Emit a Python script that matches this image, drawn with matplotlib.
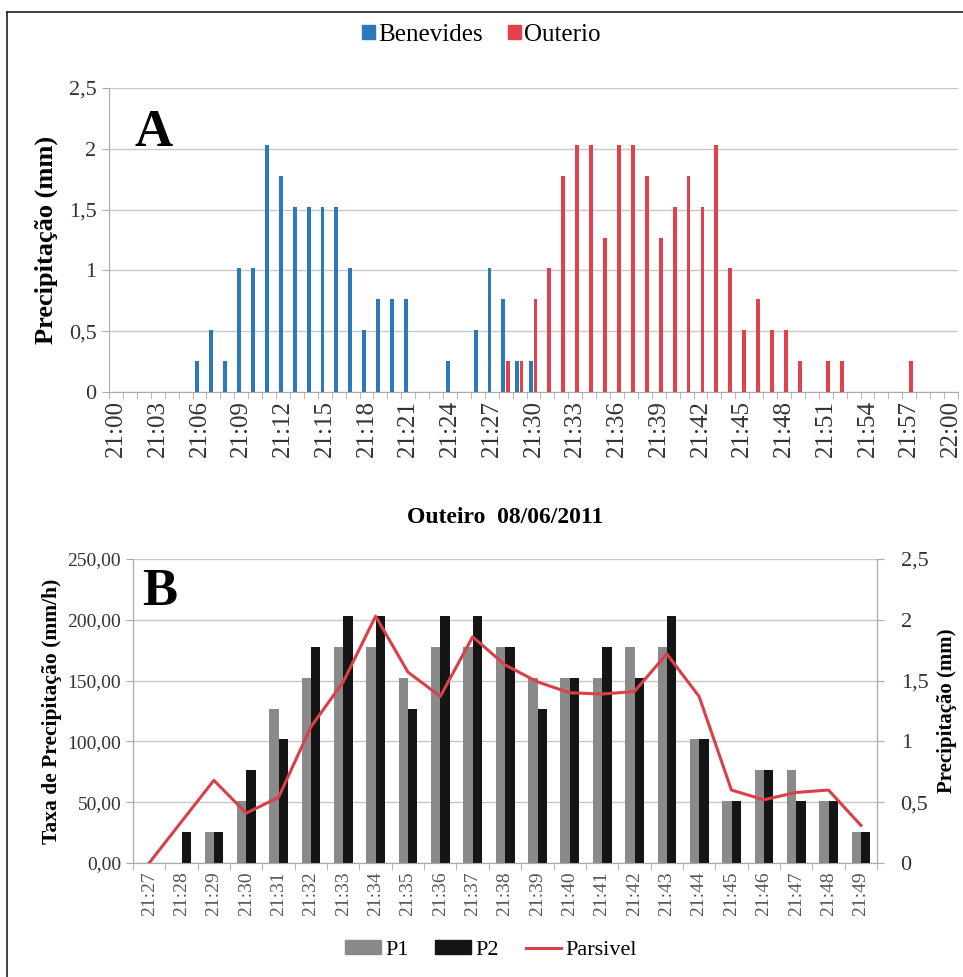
import matplotlib
matplotlib.use("Agg")
import matplotlib.pyplot as plt
import numpy as np
from matplotlib.lines import Line2D
from matplotlib.patches import Patch
from matplotlib.ticker import FuncFormatter, FixedLocator

# ---- Panel A data: tipping bucket rain per minute, 21:00 .. 22:00 (mm)
minutes_a = [f"{21 + m // 60}:{m % 60:02d}" for m in range(61)]
benevides = [0, 0, 0, 0, 0, 0, 0.254, 0.508, 0.254, 1.016,
             1.016, 2.032, 1.778, 1.524, 1.524, 1.524, 1.524, 1.016, 0.508, 0.762,
             0.762, 0.762, 0, 0, 0.254, 0, 0.508, 1.016, 0.762, 0.254,
             0.254, 0, 0, 0, 0, 0, 0, 0, 0, 0,
             0, 0, 0, 0, 0, 0, 0, 0, 0, 0,
             0, 0, 0, 0, 0, 0, 0, 0, 0, 0, 0]
outerio = [0, 0, 0, 0, 0, 0, 0, 0, 0, 0,
           0, 0, 0, 0, 0, 0, 0, 0, 0, 0,
           0, 0, 0, 0, 0, 0, 0, 0, 0.254, 0.254,
           0.762, 1.016, 1.778, 2.032, 2.032, 1.27, 2.032, 2.032, 1.778, 1.27,
           1.524, 1.778, 1.524, 2.032, 1.016, 0.508, 0.762, 0.508, 0.508, 0.254,
           0, 0.254, 0.254, 0, 0, 0, 0, 0.254, 0, 0, 0]

# ---- Panel B data: Outeiro 08/06/2011
minutes_b = ["21:27", "21:28", "21:29", "21:30", "21:31", "21:32", "21:33", "21:34",
             "21:35", "21:36", "21:37", "21:38", "21:39", "21:40", "21:41", "21:42",
             "21:43", "21:44", "21:45", "21:46", "21:47", "21:48", "21:49"]
p1 = [0, 0, 25.4, 50.8, 127, 152.4, 177.8, 177.8, 152.4, 177.8, 177.8, 177.8,
      152.4, 152.4, 152.4, 177.8, 177.8, 101.6, 50.8, 76.2, 76.2, 50.8, 25.4]
p2 = [0, 25.4, 25.4, 76.2, 101.6, 177.8, 203.2, 203.2, 127, 203.2, 203.2, 177.8,
      127, 152.4, 177.8, 152.4, 203.2, 101.6, 50.8, 76.2, 50.8, 50.8, 25.4]
parsivel = [0, 0.34, 0.68, 0.41, 0.54, 1.12, 1.49, 2.03, 1.57, 1.37, 1.86, 1.63,
            1.49, 1.40, 1.39, 1.41, 1.72, 1.37, 0.60, 0.52, 0.58, 0.60, 0.31]

plt.rcParams["font.family"] = ["Liberation Serif", "DejaVu Serif"]

BLUE = "#2b78bd"
RED = "#e2414c"
GRID = "#c8c8c8"
TXT = "#333333"


def comma(v, pos):
    s = f"{v:g}"
    return s.replace(".", ",")


fig = plt.figure(figsize=(9.63, 9.77), dpi=100)

# outer frame (only top and left edges are visible in the crop)
fig.add_artist(Line2D([7 / 963, 1], [1 - 12 / 977, 1 - 12 / 977], color="#222222", lw=1.2,
                      transform=fig.transFigure))
fig.add_artist(Line2D([7 / 963, 7 / 963], [0, 1 - 12 / 977], color="#222222", lw=1.2,
                      transform=fig.transFigure))

# ---------------- Panel A ----------------
axa = fig.add_axes([0.1132, 0.5988, 0.8816, 0.3111])
xa = np.arange(len(minutes_a))
bw = 0.28
axa.bar(xa - 0.16, benevides, width=bw, color=BLUE, zorder=3, label="Benevides")
axa.bar(xa + 0.14, outerio, width=bw, color=RED, zorder=3, label="Outerio")
axa.set_xlim(-0.5, len(minutes_a) - 0.5)
axa.set_ylim(0, 2.5)
axa.set_yticks([0, 0.5, 1, 1.5, 2, 2.5])
axa.yaxis.set_major_formatter(FuncFormatter(comma))
axa.grid(axis="y", color=GRID, lw=1, zorder=0)
axa.set_xticks(xa[::3])
axa.set_xticklabels(minutes_a[::3], rotation=90, fontsize=18, color=TXT)
axa.xaxis.set_minor_locator(FixedLocator(np.arange(-0.5, len(minutes_a), 1)))
axa.tick_params(axis="x", which="major", length=0, pad=6)
axa.tick_params(axis="x", which="minor", length=5, color="#aaaaaa")
axa.tick_params(axis="y", length=5, color="#aaaaaa", labelsize=16, labelcolor=TXT, pad=4)
for side in ["top", "right"]:
    axa.spines[side].set_visible(False)
for side in ["left", "bottom"]:
    axa.spines[side].set_color("#aaaaaa")
axa.set_ylabel("Precipitação (mm)", fontsize=19, fontweight="bold", labelpad=8)
axa.text(0.03, 0.93, "A", transform=axa.transAxes, fontsize=38, fontweight="bold",
         va="top", ha="left")
fig.legend(handles=[Patch(color=BLUE, label="Benevides"), Patch(color=RED, label="Outerio")],
           loc="center", bbox_to_anchor=(0.5, 1 - 35 / 977), ncol=2, frameon=False,
           fontsize=18, handlelength=0.5, handleheight=0.5, handletextpad=0.15,
           columnspacing=1.0)

# ---------------- Panel B ----------------
axb = fig.add_axes([0.1381, 0.1167, 0.7726, 0.3111])
xb = np.arange(len(minutes_b))
bw2 = 0.29
axb.bar(xb - 0.14, p1, width=bw2, color="#8a8a8a", zorder=3, label="P1")
axb.bar(xb + 0.15, p2, width=bw2, color="#151515", zorder=3, label="P2")
axb.set_xlim(-0.5, len(minutes_b) - 0.5)
axb.set_ylim(0, 250)
axb.set_yticks([0, 50, 100, 150, 200, 250])
axb.yaxis.set_major_formatter(FuncFormatter(lambda v, p: f"{v:.2f}".replace(".", ",")))
axb.grid(axis="y", color=GRID, lw=1, zorder=0)
axb.set_xticks(xb)
axb.set_xticklabels(minutes_b, rotation=90, fontsize=14, color="#555555")
axb.xaxis.set_minor_locator(FixedLocator(np.arange(-0.5, len(minutes_b), 1)))
axb.tick_params(axis="x", which="major", length=0, pad=6)
axb.tick_params(axis="x", which="minor", length=5, color="#aaaaaa")
axb.tick_params(axis="y", length=5, color="#aaaaaa", labelsize=14, labelcolor=TXT)
axb.spines["top"].set_visible(False)
for side in ["left", "bottom", "right"]:
    axb.spines[side].set_color("#aaaaaa")
axb.set_ylabel("Taxa de Precipitação (mm/h)", fontsize=15.5, fontweight="bold", labelpad=4)
axb.text(0.012, 0.97, "B", transform=axb.transAxes, fontsize=38, fontweight="bold",
         va="top", ha="left", zorder=5)
axb.set_title("Outeiro  08/06/2011", fontsize=17, fontweight="bold", pad=26)

axr = axb.twinx()
axr.plot(xb, parsivel, color="#d9404a", lw=2.2, zorder=4, label="Parsivel")
axr.set_ylim(0, 2.5)
axr.set_yticks([0, 0.5, 1, 1.5, 2, 2.5])
axr.yaxis.set_major_formatter(FuncFormatter(comma))
axr.tick_params(axis="y", length=5, color="#aaaaaa", labelsize=16, labelcolor=TXT, pad=12)
axr.spines["top"].set_visible(False)
for side in ["left", "bottom", "right"]:
    axr.spines[side].set_color("#aaaaaa")
axr.set_ylabel("Precipitação (mm)", fontsize=15, fontweight="bold", labelpad=6)

fig.legend(handles=[Patch(color="#8a8a8a", label="P1"), Patch(color="#151515", label="P2"),
                    Line2D([], [], color="#d9404a", lw=2.2, label="Parsivel")],
           loc="center", bbox_to_anchor=(0.51, 1 - 950 / 977), ncol=3, frameon=False,
           fontsize=16, handlelength=1.6, handleheight=0.6, handletextpad=0.2,
           columnspacing=1.2)

fig.savefig("out.png", dpi=100)
